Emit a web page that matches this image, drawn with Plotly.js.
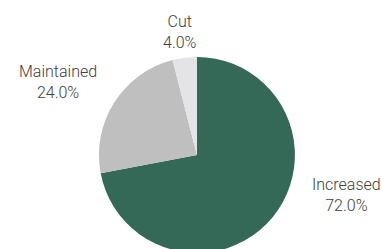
<!DOCTYPE html>
<html><head><meta charset="utf-8">
<script src="https://cdn.plot.ly/plotly-3.0.1.min.js"></script>
<style>html,body{margin:0;padding:0;overflow:hidden;background:#fff}#chart{width:382px;height:260px}</style>
</head><body><div id="chart"></div>
<script>
const categories = ["Increased", "Maintained", "Cut"];
const shares = [72.0, 24.0, 4.0];
const colors = ["#346857", "#BFBFBF", "#E4E4E7"];

const W = 382, H = 260;
// label block centres in pixels (layout only)
const labelPos = [[346, 195], [58, 82], [180, 32]];

const annotations = categories.map((c, i) => ({
  xref: "paper", yref: "paper",
  x: labelPos[i][0] / W, y: 1 - labelPos[i][1] / H,
  xanchor: "center", yanchor: "middle",
  text: c + "<br>" + shares[i].toFixed(1) + "%",
  showarrow: false,
  font: {family: "Roboto", size: 16, weight: 300, color: "#404040"}
}));

Plotly.newPlot("chart", [{
  type: "pie",
  labels: categories,
  values: shares,
  sort: false,
  direction: "clockwise",
  rotation: 0,
  marker: {colors: colors, line: {width: 0}},
  textinfo: "none",
  domain: {x: [0.259, 0.772], y: [0.027, 0.781]},
  hoverinfo: "none"
}], {
  width: W, height: H,
  margin: {l: 0, r: 0, t: 0, b: 0},
  showlegend: false,
  paper_bgcolor: "#fff",
  annotations: annotations
}, {displayModeBar: false, staticPlot: true});
</script></body></html>
